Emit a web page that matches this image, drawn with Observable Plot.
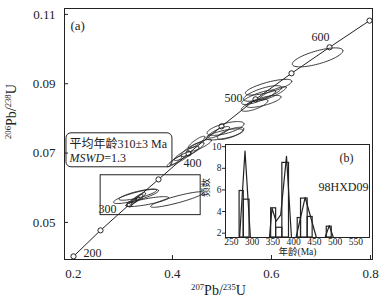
<!DOCTYPE html>
<html><head><meta charset="utf-8">
<script src="https://cdn.jsdelivr.net/npm/d3@7"></script>
<script src="https://cdn.jsdelivr.net/npm/@observablehq/plot@0.6"></script>
<style>
html,body{margin:0;padding:0;background:#fff;}
#wrap{position:relative;width:379px;height:306px;overflow:hidden;}
#wrap svg{position:absolute;}
</style></head><body><div id="wrap"></div>
<script>
// ---- concordia ----
const concAges = [200, 250, 300, 350, 400, 450, 500, 550, 600, 650];
const concX = [0.2002, 0.2547, 0.3133, 0.3718, 0.4324, 0.4991, 0.5677, 0.6404, 0.7172, 0.7980];
const concY = [0.0402, 0.0477, 0.0552, 0.0624, 0.0699, 0.0777, 0.0855, 0.0930, 0.1005, 0.1082];
const concLabels = [200, 300, 400, 500, 600];

// ---- error ellipses: centre, half-extent in x and y, correlation ----
const ellCx  = [0.3264, 0.3300, 0.3487, 0.4093, 0.3174, 0.3234, 0.3295, 0.3355,
                0.4042, 0.4163, 0.4284, 0.4406, 0.4547, 0.4486,
                0.5072, 0.5052, 0.5173, 0.4931,
                0.5941, 0.5820, 0.5739, 0.5840, 0.5658, 0.6022,
                0.6931];
const ellCy  = [0.0575, 0.0580, 0.0560, 0.0566, 0.0557, 0.0563, 0.0569, 0.0575,
                0.0676, 0.0685, 0.0699, 0.0711, 0.0722, 0.0731,
                0.0771, 0.0754, 0.0757, 0.0760,
                0.0890, 0.0872, 0.0861, 0.0849, 0.0838, 0.0872,
                0.0976];
const ellSx  = [0.0455, 0.0380, 0.0434, 0.0535, 0.0102, 0.0102, 0.0110, 0.0102,
                0.0151, 0.0211, 0.0251, 0.0230, 0.0239, 0.0168,
                0.0372, 0.0376, 0.0267, 0.0221,
                0.0469, 0.0385, 0.0343, 0.0352, 0.0267, 0.0276,
                0.0511];
const ellSy  = [0.00206, 0.00160, 0.00143, 0.00224, 0.00110, 0.00110, 0.00120, 0.00110,
                0.00156, 0.00184, 0.00204, 0.00207, 0.00177, 0.00175,
                0.00199, 0.00160, 0.00175, 0.00166,
                0.00227, 0.00225, 0.00208, 0.00174, 0.00175, 0.00199,
                0.00274];
const ellRho = [0.82, 0.80, 0.79, 0.89, 0.78, 0.78, 0.78, 0.78,
                0.90, 0.89, 0.88, 0.83, 0.84, 0.87,
                0.66, 0.68, 0.72, 0.82,
                0.75, 0.74, 0.81, 0.73, 0.72, 0.88,
                0.70];

// boxes (data units)
const boxX = [0.255, 0.457], boxY = [0.0521, 0.0636];
const noteX = [0.186, 0.400], noteY = [0.0659, 0.0757];
const noteLine1 = "平均年龄310±3 Ma", noteLine2 = "MSWD=1.3";

// main axes
const xTicks = [0.2, 0.4, 0.6, 0.8];
const yTicks = [0.05, 0.07, 0.09, 0.11];
const xDom = [0.182, 0.804], yDom = [0.0393, 0.1117];

// ---- inset histogram ----
const barStart = [270, 280, 346, 358, 373, 410, 418, 434, 480];
const barEnd   = [280, 294, 358, 373, 389, 418, 434, 446, 492];
const barCount = [5.9, 5.1, 4.3, 2.5, 8.5, 3.4, 5.2, 3.5, 2.6];
const curveGroup = [1,1,1, 2,2,2,2,2,2, 3,3,3, 4,4,4];
const curveAge   = [270,283,296, 342,348,358,369,383,395, 406,428,455, 476,486,496];
const curveVal   = [1.6,9.6,1.6, 1.6,4.3,3.1,3.7,9.1,1.6, 1.6,5.3,1.6, 1.6,2.7,1.6];
const histXTicks = [250, 300, 350, 400, 450, 500, 550];
const histYTicks = [2, 4, 6, 8, 10];
const histXDom = [236, 583], histYDom = [1.6, 10.2];

// ---------------------------------------------------------
const INK = "#222";
const SERIF = "'Liberation Serif', 'Noto Sans CJK SC', serif";
const W = 379, H = 306, mL = 64, mR = 7, mT = 8, mB = 47;
const plotW = W - mL - mR, plotH = H - mT - mB;

const conc = concAges.map((a, i) => ({age: a, x: concX[i], y: concY[i]}));
const ellPts = [];
ellCx.forEach((cx, i) => {
  const cy = ellCy[i], sx = ellSx[i], sy = ellSy[i], r = ellRho[i], q = Math.sqrt(1 - r * r);
  for (let k = 0; k <= 80; k++) {
    const t = 2 * Math.PI * k / 80;
    ellPts.push({id: i, x: cx + sx * Math.cos(t), y: cy + sy * (r * Math.cos(t) + q * Math.sin(t))});
  }
});

const labelOff = {
  200: {dx: 10, dy: -3, anchor: "start"},
  300: {dx: -13, dy: 5, anchor: "end"},
  400: {dx: -5, dy: 10, anchor: "start"},
  500: {dx: -13, dy: -1, anchor: "end"},
  600: {dx: -9, dy: -10, anchor: "middle"}
};
const labelMarks = concLabels.map(a => {
  const o = labelOff[a];
  return Plot.text(conc.filter(d => d.age === a), {x: "x", y: "y", text: d => String(d.age),
    dx: o.dx, dy: o.dy, textAnchor: o.anchor, fontSize: 12, fill: INK});
});

const main = Plot.plot({
  width: W, height: H, marginLeft: mL, marginRight: mR, marginTop: mT, marginBottom: mB,
  style: {fontFamily: SERIF, fontSize: "13px", color: INK, background: "transparent"},
  x: {domain: xDom, ticks: xTicks, tickSize: 0, tickPadding: 9, tickFormat: d3.format(".1f"), label: null},
  y: {domain: yDom, ticks: yTicks, tickSize: 0, tickPadding: 9, tickFormat: d3.format(".2f"), label: null},
  marks: [
    Plot.frame({stroke: INK, strokeWidth: 1}),
    Plot.ruleX(xTicks, {insetTop: plotH - 4, stroke: INK}),
    Plot.ruleY(yTicks, {insetRight: plotW - 4, stroke: INK}),
    Plot.rect([0], {x1: boxX[0], x2: boxX[1], y1: boxY[0], y2: boxY[1], fill: "none", stroke: INK, strokeWidth: 1}),
    Plot.rect([0], {x1: noteX[0], x2: noteX[1], y1: noteY[0], y2: noteY[1], fill: "none", stroke: INK, strokeWidth: 1, rx: 5}),
    Plot.line(conc, {x: "x", y: "y", stroke: INK, strokeWidth: 1}),
    Plot.dot(conc, {x: "x", y: "y", r: 2.6, fill: "white", stroke: INK, strokeWidth: 1}),
    Plot.line(ellPts, {x: "x", y: "y", z: "id", stroke: INK, strokeWidth: 0.9}),
    ...labelMarks,
    Plot.text([noteLine1], {x: noteX[0], y: noteY[1], dx: 3, dy: 11, textAnchor: "start", fontSize: 12, fill: INK}),
    Plot.text([noteLine2], {x: noteX[0], y: noteY[1], dx: 3, dy: 25, textAnchor: "start", fontSize: 12, fill: INK}),
    Plot.text(["(a)"], {frameAnchor: "top-left", dx: 6, dy: 12, textAnchor: "start", fontSize: 13, fill: INK}),
    Plot.text(["207Pb/235U"], {frameAnchor: "bottom", dy: 35, fontSize: 14, fill: INK}),
    Plot.text(["206Pb/238U"], {frameAnchor: "left", dx: -53, dy: 5, rotate: -90, fontSize: 14, fill: INK})
  ]
});

const bars = barStart.map((s, i) => ({x1: s, x2: barEnd[i], n: barCount[i]}));
const curve = curveAge.map((a, i) => ({g: curveGroup[i], x: a, y: curveVal[i]}));
const inset = Plot.plot({
  width: 177, height: 120, marginLeft: 30, marginRight: 3, marginTop: 4, marginBottom: 23,
  style: {fontFamily: SERIF, fontSize: "9.5px", color: INK, background: "transparent", overflow: "visible"},
  x: {domain: histXDom, ticks: histXTicks, tickSize: 0, tickPadding: 1, label: null},
  y: {domain: histYDom, ticks: histYTicks, tickSize: 3, tickPadding: 1, label: null},
  marks: [
    Plot.frame({stroke: INK, strokeWidth: 1}),
    Plot.rect(bars, {x1: "x1", x2: "x2", y1: histYDom[0], y2: "n", fill: "none", stroke: INK, strokeWidth: 1.2}),
    Plot.line(curve, {x: "x", y: "y", z: "g", stroke: INK, strokeWidth: 1.2}),
    Plot.text(["98HXD09"], {frameAnchor: "top-left", dx: 93, dy: 38, fontSize: 12, fill: INK}),
    Plot.text(["(b)"], {frameAnchor: "top-right", dx: -16, dy: 9, fontSize: 12, fill: INK}),
    Plot.text(["年龄(Ma)"], {frameAnchor: "bottom", dy: 17.5, fontSize: 9.5, fill: INK}),
    Plot.text(["频数"], {frameAnchor: "left", dx: -20, dy: 6, rotate: -90, fontSize: 9.5, fill: INK})
  ]
});

main.style.left = "0px"; main.style.top = "0px";
inset.style.left = "195px"; inset.style.top = "140px";
const wrap = document.getElementById("wrap");
wrap.appendChild(main);
wrap.appendChild(inset);

// rich text: superscripts and italics
function rich(svg, raw, parts) {
  d3.select(svg).selectAll("text").filter(function () { return this.textContent === raw; }).each(function () {
    const t = d3.select(this); t.text(null);
    for (const p of parts) {
      const s = t.append("tspan").text(p.t);
      if (p.sup) s.attr("font-size", "62%").attr("baseline-shift", "super");
      if (p.it) s.attr("font-style", "italic");
    }
  });
}
rich(main, "207Pb/235U", [{t: "207", sup: 1}, {t: "Pb/"}, {t: "235", sup: 1}, {t: "U"}]);
rich(main, "206Pb/238U", [{t: "206", sup: 1}, {t: "Pb/"}, {t: "238", sup: 1}, {t: "U"}]);
rich(main, "MSWD=1.3", [{t: "MSWD", it: 1}, {t: "=1.3"}]);
</script></body></html>
